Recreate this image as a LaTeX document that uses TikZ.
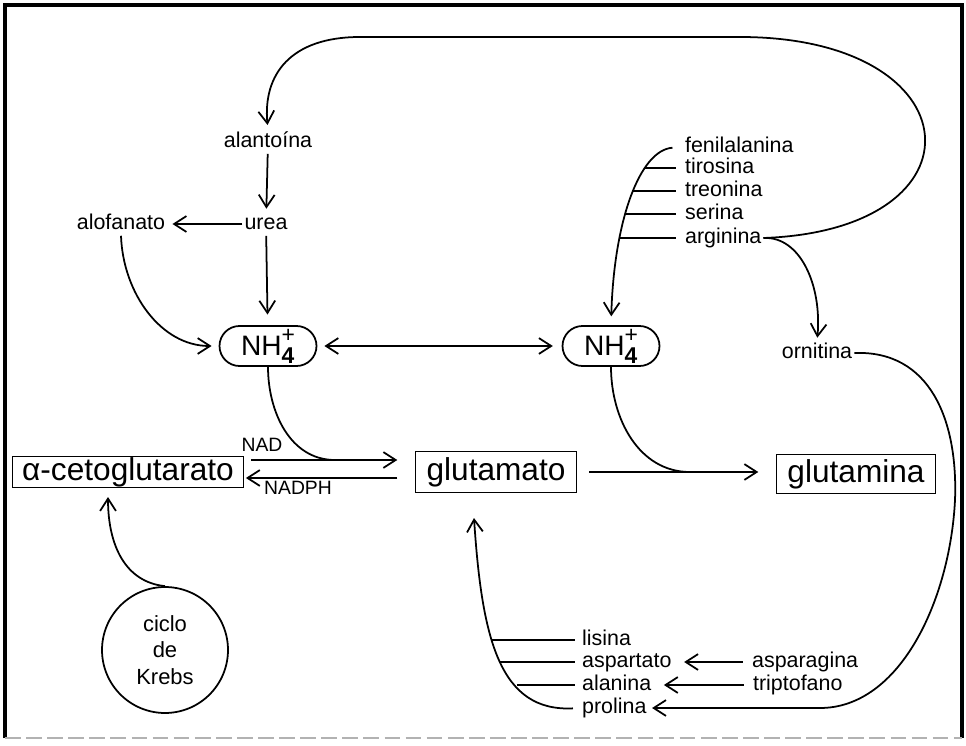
\documentclass[tikz,border=0pt]{standalone}
\usepackage{fontspec}
\setmainfont{Liberation Sans}
\usepackage{tikz}
\usetikzlibrary{arrows.meta,calc,positioning}

\newcommand{\amonio}{NH\raisebox{-0.5ex}{\fontsize{13}{10}\selectfont\shortstack[l]{+\\\bfseries 4}}}

\begin{document}
\begin{tikzpicture}[x=0.02cm,y=-0.02cm,
		>={Straight Barb[length=7pt,width=9pt]},
		flecha/.style={line width=1pt},
		etiq/.style={font=\fontsize{12.2}{14}\selectfont, inner sep=1pt, text height=8.6pt, text depth=2.4pt},
		caja/.style={draw, line width=0.75pt, font=\fontsize{18}{20}\selectfont, inner sep=0pt},
		amonio/.style={draw, line width=1pt, rounded corners=0.4cm, minimum width=1.94cm, minimum height=0.8cm, inner sep=0pt, font=\fontsize{16}{18}\selectfont}]
		
		\useasboundingbox (0,0) rectangle (966,746);
		\draw[line width=1.8pt] (5,738) -- (5,5) -- (962,5) -- (962,738);
		\draw[gray!60, line width=1.6pt, dash pattern=on 9pt off 3pt] (5,738) -- (962,738);
		
		\node[etiq] (alan) at (268,142) {alantoína};
		\node[etiq] (urea) at (266,224) {urea};
		\node[etiq] (alof) at (121,224) {alofanato};
		\node[amonio] (nhl) at (268,346) {\amonio};
		\node[amonio] (nhr) at (611,346) {\amonio};
		
		\node[etiq, anchor=west] (fen) at (683,147) {fenilalanina};
		\node[etiq, anchor=west] (tir) at (683,168) {tirosina};
		\node[etiq, anchor=west] (tre) at (683,191) {treonina};
		\node[etiq, anchor=west] (ser) at (683,214) {serina};
		\node[etiq, anchor=west] (arg) at (683,238) {arginina};
		\node[etiq] (orn) at (817,353) {ornitina};
		
		\node[caja, minimum width=4.62cm, minimum height=0.62cm] (acg) at (128,472) {α-cetoglutarato};
		\node[caja, minimum width=3.22cm, minimum height=0.82cm] (glu) at (496,472) {glutamato};
		\node[caja, minimum width=3.18cm, minimum height=0.78cm] (gln) at (856,474) {glutamina};
		\node[etiq, font=\fontsize{11}{13}\selectfont] (nad) at (262,446) {NAD};
		\node[etiq, font=\fontsize{11}{13}\selectfont] (nadph) at (298,489) {NADPH};
		
		\node[draw, circle, line width=1pt, minimum size=2.52cm, align=center, font=\fontsize{12.5}{15}\selectfont] (krebs) at (165,650) {ciclo\\de\\Krebs};
		
		\node[etiq, anchor=west] (lis) at (580,640) {lisina};
		\node[etiq, anchor=west] (asp) at (580,662) {aspartato};
		\node[etiq, anchor=west] (ala) at (580,685) {alanina};
		\node[etiq, anchor=west] (pro) at (580,708) {prolina};
		\node[etiq, anchor=west] (asn) at (750,662) {asparagina};
		\node[etiq, anchor=west] (trp) at (751,685) {triptofano};
		
		\coordinate (t1) at (645,168);
		\coordinate (t2) at (633,191);
		\coordinate (t3) at (626,214);
		\coordinate (t4) at (620,238);
		\coordinate (s1) at (491,640);
		\coordinate (s2) at (500,662);
		\coordinate (s3) at (517,685);
		\coordinate (c5) at (474,518);
		\coordinate (k1) at (108,497);
		\coordinate (m1) at (335,460);
		\coordinate (m2) at (690,472);
		
		% alantoina -> urea -> NH4
		\draw[flecha,->,shorten >=2pt] (alan) -- (urea);
		\draw[flecha,->,shorten >=3pt] (urea) -- (alof);
		\draw[flecha,->,shorten >=6pt] (urea) -- (nhl);
		\draw[flecha,->,shorten >=4pt] (alof.south) to[out=-88,in=180] (nhl.west);
		\draw[flecha,<->,shorten <=4pt,shorten >=5pt] (nhl) -- (nhr);
		
		% aminoacidos -> NH4
		\draw[flecha,->,shorten <=6pt,shorten >=5pt] (fen.west) .. controls (640,150) and (614,220) .. (nhr.north);
		\draw[flecha,shorten >=4pt] (t1) -- (tir.west);
		\draw[flecha,shorten >=4pt] (t2) -- (tre.west);
		\draw[flecha,shorten >=4pt] (t3) -- (ser.west);
		\draw[flecha,shorten >=4pt] (t4) -- (arg.west);
		
		\draw[flecha,->,shorten >=3pt] (arg.east) .. controls (990,230) and (975,37) .. (740,37) -- (360,37) .. controls (290,37) and (263,75) .. (alan.north);
		\draw[flecha,->,shorten >=2pt] (arg.east) .. controls (800,236) and (822,285) .. (orn.north);
		\draw[flecha,->,shorten >=2pt] (orn.east) .. controls (930,350) and (958,420) .. (955,500) .. controls (950,600) and (900,708) .. (820,708) -- (pro.east);
		
		% glutamato
		\draw[flecha,->,shorten <=4pt,shorten >=10pt] ([yshift=0.24cm]acg.east) -- ([yshift=0.24cm]glu.west);
		\draw[flecha,->,shorten <=10pt,shorten >=1pt] ([yshift=-0.12cm]glu.west) -- ([yshift=-0.12cm]acg.east);
		\draw[flecha] (nhl.south) to[out=-90,in=180] (m1);
		\draw[flecha,->,shorten <=7pt,shorten >=10pt] (glu.east) -- (glu.east -| gln.west);
		\draw[flecha] (nhr.south) to[out=-90,in=180] (m2);
		\draw[flecha,->] (krebs.north) .. controls (125,582) and (108,545) .. (k1);
		
		\draw[flecha,->,shorten <=4pt] (pro.west) .. controls (500,712) and (482,640) .. (c5);
		\draw[flecha,shorten >=3pt] (s1) -- (lis.west);
		\draw[flecha,shorten >=3pt] (s2) -- (asp.west);
		\draw[flecha,shorten >=3pt] (s3) -- (ala.west);
		\draw[flecha,->,shorten <=4pt,shorten >=6pt] (asn.west) -- (asp.east);
		\draw[flecha,->,shorten <=4pt,shorten >=6pt] (trp.west) -- (ala.east);
		
\end{tikzpicture}
\end{document}
